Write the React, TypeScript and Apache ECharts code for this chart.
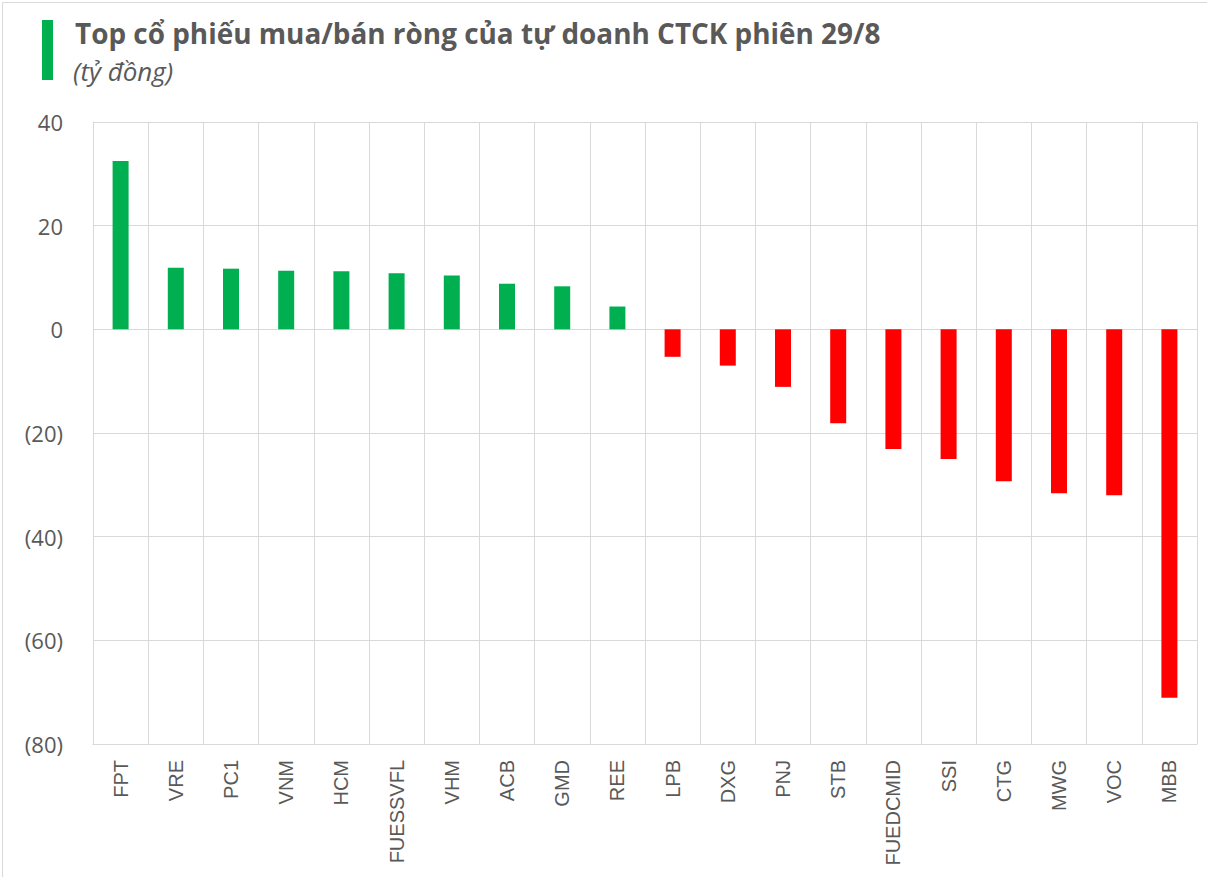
import React, { useEffect, useRef } from "react";
import * as echarts from "echarts";

const categories = ["FPT", "VRE", "PC1", "VNM", "HCM", "FUESSVFL", "VHM", "ACB", "GMD", "REE", "LPB", "DXG", "PNJ", "STB", "FUEDCMID", "SSI", "CTG", "MWG", "VOC", "MBB"];
const values = [32.5, 11.9, 11.7, 11.3, 11.2, 10.8, 10.4, 8.8, 8.3, 4.4, -5.3, -7.0, -11.1, -18.1, -23.1, -25.0, -29.3, -31.6, -32.0, -71.1];
const yTicks = { min: -80, max: 40, interval: 20 };
const titleText = "Top cổ phiếu mua/bán ròng của tự doanh CTCK phiên 29/8";
const subtitleText = "(tỷ đồng)";

const GREEN = "#00b050";
const RED = "#ff0000";
const GRAY_TEXT = "#595959";
const GRID = "#d9d9d9";

export default function App() {
  const ref = useRef<HTMLDivElement>(null);
  useEffect(() => {
    document.body.style.margin = "0";
    if (!ref.current) return;
    const chart = echarts.init(ref.current, null, { renderer: "svg" });
    chart.setOption({
      animation: false,
      backgroundColor: "#ffffff",
      grid: { left: 93, right: 10, top: 122, bottom: 133, containLabel: false },
      graphic: [
        { type: "rect", left: 0, top: 0, shape: { x: 0.5, y: 0.5, width: 1206, height: 876 }, style: { fill: "none", stroke: GRID, lineWidth: 1 }, silent: true },
        { type: "rect", shape: { x: 42, y: 20, width: 11, height: 60 }, style: { fill: GREEN } },
        { type: "text", x: 75, y: 19, style: { text: titleText, fill: GRAY_TEXT, font: "bold 27.9px 'Open Sans', sans-serif" } },
        { type: "text", x: 73, y: 58, style: { text: subtitleText, fill: GRAY_TEXT, font: "italic 26px 'Open Sans', sans-serif" } },
      ],
      xAxis: {
        type: "category",
        data: categories,
        position: "bottom",
        axisLine: { show: true, onZero: false, lineStyle: { color: GRID, width: 1 } },
        axisTick: { show: false },
        splitLine: { show: true, lineStyle: { color: GRID, width: 1 } },
        axisLabel: { rotate: 90, margin: 16, color: GRAY_TEXT, fontSize: 20, fontFamily: "'Liberation Sans', Arial, sans-serif", interval: 0 },
      },
      yAxis: {
        type: "value",
        min: yTicks.min,
        max: yTicks.max,
        interval: yTicks.interval,
        axisLine: { show: true, lineStyle: { color: GRID } },
        axisTick: { show: false },
        splitLine: { show: true, lineStyle: { color: GRID, width: 1 } },
        axisLabel: {
          margin: 30,
          color: GRAY_TEXT,
          fontSize: 22,
          fontFamily: "'Open Sans', sans-serif",
          formatter: (v: number) => (v < 0 ? `(${Math.abs(v)})` : `${v}`),
        },
      },
      series: [
        {
          type: "bar",
          data: values.map((v) => ({ value: v, itemStyle: { color: v >= 0 ? GREEN : RED } })),
          barWidth: 16,
        },
      ],
    });
    return () => chart.dispose();
  }, []);
  return <div ref={ref} style={{ position: "absolute", left: 0, top: 0, width: 1207, height: 877 }} />;
}
